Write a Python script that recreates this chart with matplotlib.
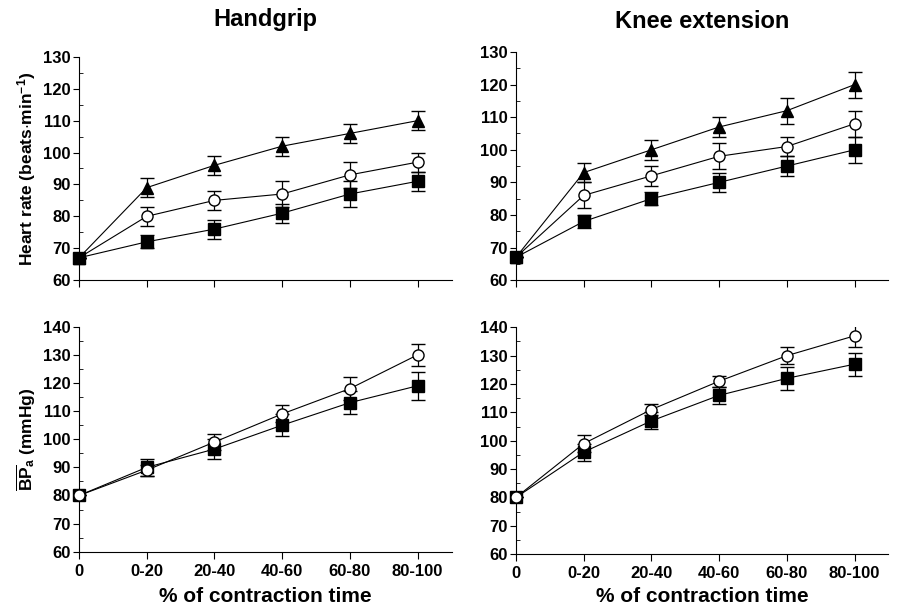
import matplotlib
matplotlib.use("Agg")
import matplotlib.pyplot as plt
from matplotlib.ticker import MultipleLocator

plt.rcParams['font.family'] = ['Liberation Sans', 'DejaVu Sans']
plt.rcParams['font.weight'] = 'bold'
plt.rcParams['mathtext.fontset'] = 'custom'
plt.rcParams['mathtext.rm'] = 'Liberation Sans:bold'
plt.rcParams['mathtext.bf'] = 'Liberation Sans:bold'
plt.rcParams['mathtext.it'] = 'Liberation Sans:bold'

periods = ['0', '0-20', '20-40', '40-60', '60-80', '80-100']

# heart rate, handgrip
hg_hr_tri = [67, 89, 96, 102, 106, 110]
hg_hr_tri_err = [0, 3, 3, 3, 3, 3]
hg_hr_circ = [67, 80, 85, 87, 93, 97]
hg_hr_circ_err = [0, 3, 3, 4, 4, 3]
hg_hr_sq = [67, 72, 76, 81, 87, 91]
hg_hr_sq_err = [0, 2, 3, 3, 4, 3]

# heart rate, knee extension
ke_hr_tri = [67, 93, 100, 107, 112, 120]
ke_hr_tri_err = [0, 3, 3, 3, 4, 4]
ke_hr_circ = [67, 86, 92, 98, 101, 108]
ke_hr_circ_err = [0, 4, 3, 4, 3, 4]
ke_hr_sq = [67, 78, 85, 90, 95, 100]
ke_hr_sq_err = [0, 2, 2, 3, 3, 4]

# mean arterial pressure, handgrip
hg_bp_circ = [80, 89, 99, 109, 118, 130]
hg_bp_circ_err = [0, 2, 3, 3, 4, 4]
hg_bp_sq = [80, 90, 96.5, 105, 113, 119]
hg_bp_sq_err = [0, 3, 3.5, 4, 4, 5]

# mean arterial pressure, knee extension
ke_bp_circ = [80, 99, 111, 121, 130, 137]
ke_bp_circ_err = [0, 3, 2, 2, 3, 4]
ke_bp_sq = [80, 96, 107, 116, 122, 127]
ke_bp_sq_err = [0, 3, 3, 3, 4, 4]

x = list(range(len(periods)))

def series(ax, y, err, marker, face):
    lines = ax.errorbar(x, y, yerr=err, color='black', lw=0.8, marker=marker, ms=8,
                        mfc=face, mec='black', mew=1, capsize=5, elinewidth=0.9,
                        capthick=0.9, zorder=3)
    lines[0].set_clip_on(False)

def style(ax, lo, hi, show_x):
    ax.set_xlim(0, 5.5)
    ax.set_ylim(lo, hi)
    ax.spines['top'].set_visible(False)
    ax.spines['right'].set_visible(False)
    ax.set_xticks(x)
    ax.set_xticklabels(periods if show_x else [''] * len(x))
    ax.yaxis.set_major_locator(MultipleLocator(10))
    ax.yaxis.set_minor_locator(MultipleLocator(5))
    ax.tick_params(axis='y', which='major', direction='out', length=4, labelsize=12, pad=2)
    ax.tick_params(axis='y', which='minor', direction='in', length=3)
    ax.tick_params(axis='x', direction='out', length=5, labelsize=12)
    for t in ax.get_xticklabels() + ax.get_yticklabels():
        t.set_fontweight('bold')

fig = plt.figure(figsize=(9.02, 6.05), dpi=100)
ax1 = fig.add_axes([0.0876, 0.537, 0.413, 0.369])
ax2 = fig.add_axes([0.572, 0.537, 0.413, 0.377])
ax3 = fig.add_axes([0.0876, 0.088, 0.413, 0.372])
ax4 = fig.add_axes([0.572, 0.084, 0.413, 0.375])

series(ax1, hg_hr_tri, hg_hr_tri_err, '^', 'black')
series(ax1, hg_hr_circ, hg_hr_circ_err, 'o', 'white')
series(ax1, hg_hr_sq, hg_hr_sq_err, 's', 'black')
style(ax1, 60, 130, False)

series(ax2, ke_hr_tri, ke_hr_tri_err, '^', 'black')
series(ax2, ke_hr_circ, ke_hr_circ_err, 'o', 'white')
series(ax2, ke_hr_sq, ke_hr_sq_err, 's', 'black')
style(ax2, 60, 130, False)

series(ax3, hg_bp_sq, hg_bp_sq_err, 's', 'black')
series(ax3, hg_bp_circ, hg_bp_circ_err, 'o', 'white')
style(ax3, 60, 140, True)

series(ax4, ke_bp_sq, ke_bp_sq_err, 's', 'black')
series(ax4, ke_bp_circ, ke_bp_circ_err, 'o', 'white')
style(ax4, 60, 140, True)

ax1.set_title('Handgrip', fontsize=17, fontweight='bold', pad=22)
ax2.set_title('Knee extension', fontsize=17, fontweight='bold', pad=17)
ax1.set_ylabel(r'Heart rate (beats$\cdot$min$^{-1}$)', fontsize=12.5, fontweight='bold', labelpad=4)
ax3.set_ylabel(r'$\overline{\mathrm{BP}}_{a}$ (mmHg)', fontsize=12.5, fontweight='bold', labelpad=4)
ax3.set_xlabel('% of contraction time', fontsize=15, fontweight='bold', labelpad=6)
ax4.set_xlabel('% of contraction time', fontsize=15, fontweight='bold', labelpad=4)

fig.savefig('out.png', dpi=100)
